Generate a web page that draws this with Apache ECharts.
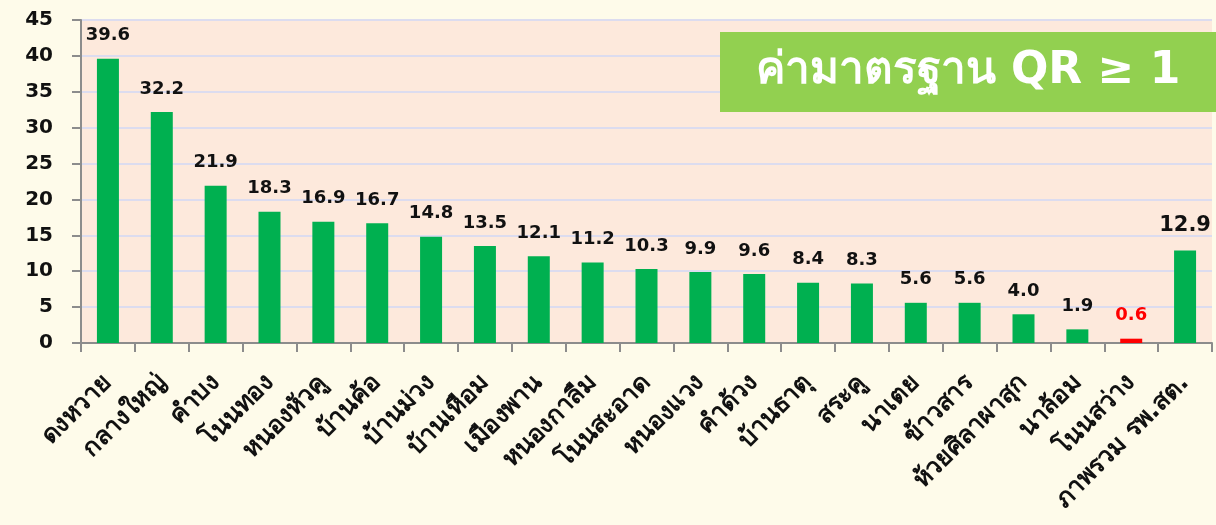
<!DOCTYPE html>
<html>
<head>
<meta charset="utf-8">
<script src="https://cdn.jsdelivr.net/npm/echarts@6/dist/echarts.min.js"></script>
<style>
  html, body { margin: 0; padding: 0; background: #fefbea; }
  #qr-chart { width: 1216px; height: 525px; }
</style>
</head>
<body>
<div id="qr-chart"></div>
<script>
// ชื่อ รพ.สต.
var categories = ['ดงหวาย', 'กลางใหญ่', 'คำบง', 'โนนทอง', 'หนองหัวคู', 'บ้านค้อ', 'บ้านม่วง',
  'บ้านเหือม', 'เมืองพาน', 'หนองกาลืม', 'โนนสะอาด', 'หนองแวง', 'คำด้วง', 'บ้านธาตุ',
  'สระคู', 'นาเตย', 'ข้าวสาร', 'ห้วยศิลาผาสุก', 'นาล้อม', 'โนนสว่าง', 'ภาพรวม รพ.สต.'];
var qrValues = [39.6, 32.2, 21.9, 18.3, 16.9, 16.7, 14.8, 13.5, 12.1, 11.2, 10.3, 9.9, 9.6, 8.4,
  8.3, 5.6, 5.6, 4.0, 1.9, 0.6, 12.9];
var qrStandard = 1;
var yTicks = { min: 0, max: 45, interval: 5 };
var legendText = 'ค่ามาตรฐาน QR ≥ 1';

var fontFamily = '"DejaVu Sans", "Noto Sans", sans-serif';
var myChart = echarts.init(document.getElementById('qr-chart'));

var barData = qrValues.map(function (v, i) {
  var low = v < qrStandard;
  var last = i === qrValues.length - 1;
  return {
    value: v,
    itemStyle: { color: low ? '#ff0000' : '#00b050' },
    label: {
      color: low ? '#ff0000' : '#111',
      fontSize: last ? 21 : 18
    }
  };
});

var option = {
  backgroundColor: '#fefbea',
  textStyle: { fontFamily: fontFamily },
  grid: {
    left: 81, right: 4, top: 20, bottom: 182,
    show: true,
    backgroundColor: '#fde9dc',
    borderWidth: 0
  },
  xAxis: {
    type: 'category',
    data: categories,
    axisLine: { lineStyle: { color: '#8c8c8c', width: 2 } },
    axisTick: { show: true, length: 9, lineStyle: { color: '#8c8c8c', width: 2 } },
    axisLabel: {
      rotate: 45,
      interval: 0,
      color: '#111',
      fontSize: 25,
      fontWeight: 'bold',
      margin: 36
    }
  },
  yAxis: {
    type: 'value',
    min: yTicks.min,
    max: yTicks.max,
    interval: yTicks.interval,
    axisLine: { show: true, lineStyle: { color: '#8c8c8c', width: 2 } },
    axisTick: { show: true, length: 9, lineStyle: { color: '#8c8c8c', width: 2 } },
    axisLabel: { color: '#111', fontSize: 20, fontWeight: 'bold', margin: 28 },
    splitLine: { lineStyle: { color: '#dcdcef', width: 2 } }
  },
  series: [{
    type: 'bar',
    data: barData,
    barWidth: 22,
    label: {
      show: true,
      position: 'top',
      distance: 14,
      fontWeight: 'bold',
      formatter: function (p) { return p.value.toFixed(1); }
    }
  }],
  graphic: [{
    type: 'group',
    right: 0,
    top: 32,
    z: 100,
    children: [{
      type: 'rect',
      z: 100,
      shape: { x: 0, y: 0, width: 496, height: 80 },
      style: { fill: '#92d050' }
    }, {
      type: 'text',
      z: 101,
      x: 248, y: 40,
      style: {
        text: legendText,
        fill: '#fff',
        fontSize: 44,
        fontWeight: 'bold',
        fontFamily: fontFamily,
        align: 'center',
        verticalAlign: 'middle'
      }
    }]
  }]
};

myChart.setOption(option);
window.addEventListener('resize', function () { myChart.resize(); });
</script>
</body>
</html>
